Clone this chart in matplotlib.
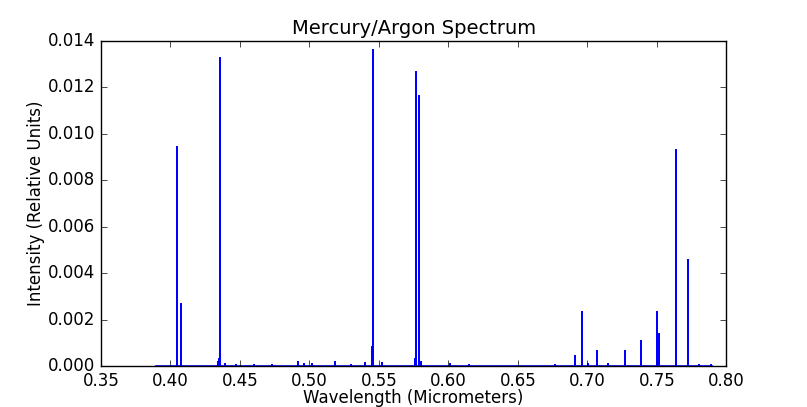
import numpy as np
import matplotlib
matplotlib.use("Agg")
import matplotlib.pyplot as plt

# emission lines (wavelength in um, relative intensity)
line_wl = [0.4046, 0.4075, 0.4340, 0.4350, 0.4358, 0.4390, 0.4470, 0.4600, 0.4730,
           0.4916, 0.4960, 0.5020, 0.5182, 0.5300, 0.5398, 0.5450, 0.5461, 0.5520,
           0.5760, 0.5770, 0.5791, 0.5800, 0.6010, 0.6150, 0.6770, 0.6908, 0.6965,
           0.7004, 0.7067, 0.7147, 0.7272, 0.7384, 0.7504, 0.7514, 0.7635, 0.7724,
           0.7800, 0.7890]
line_int = [0.00945, 0.00270, 0.00020, 0.00030, 0.01327, 0.00008, 0.00006, 0.00006,
            0.00007, 0.00018, 0.00008, 0.00008, 0.00017, 0.00006, 0.00013, 0.00085,
            0.01360, 0.00015, 0.00030, 0.01267, 0.01164, 0.00020, 0.00008, 0.00005,
            0.00005, 0.00043, 0.00232, 0.00008, 0.00064, 0.00010, 0.00064, 0.00110,
            0.00232, 0.00140, 0.00932, 0.00455, 0.00006, 0.00006]
baseline_start = 0.390
baseline_end = 0.790

plt.style.use("classic")

# build the trace: baseline with a spike for each line
xs = [baseline_start]
ys = [0.0]
for w, h in zip(line_wl, line_int):
    xs += [w, w, w]
    ys += [0.0, h, 0.0]
xs.append(baseline_end)
ys.append(0.0)

fig = plt.figure(figsize=(8.07, 4.07), dpi=100, facecolor="white")
ax = fig.add_axes([0.125, 0.1, 0.775, 0.8])
ax.plot(xs, ys, color="blue", linewidth=1.2)
ax.set_xlim(0.35, 0.80)
ax.set_ylim(0, 0.014)
ax.set_xticks(np.arange(0.35, 0.801, 0.05))
ax.set_yticks(np.arange(0, 0.0141, 0.002))
ax.set_xticklabels(["%.2f" % v for v in np.arange(0.35, 0.801, 0.05)])
ax.set_yticklabels(["%.3f" % v for v in np.arange(0, 0.0141, 0.002)])
ax.set_title("Mercury/Argon Spectrum", fontsize=14)
ax.set_xlabel("Wavelength (Micrometers)", fontsize=12, labelpad=-0.8)
ax.set_ylabel("Intensity (Relative Units)", fontsize=12, labelpad=2)

fig.savefig("out.png", dpi=100, facecolor="white")
